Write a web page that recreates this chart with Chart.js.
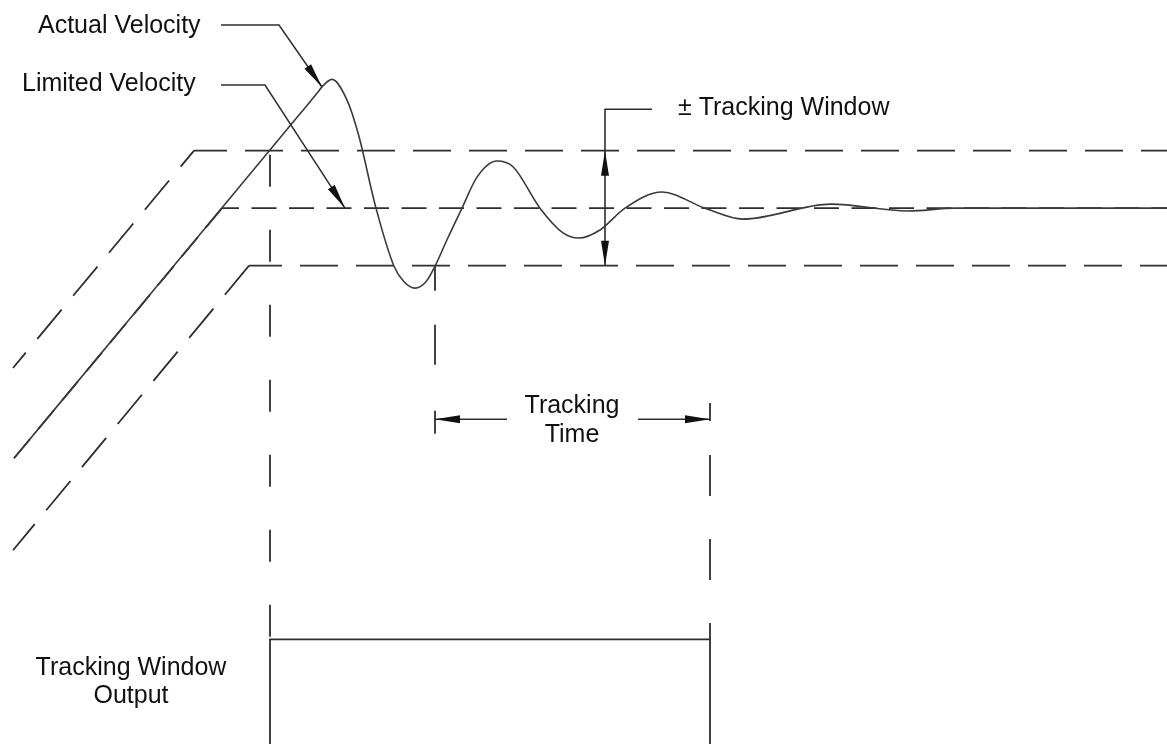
<!DOCTYPE html>
<html>
<head>
<meta charset="utf-8">
<title>Tracking Window</title>
<script src="https://cdn.jsdelivr.net/npm/chart.js@4.4.1/dist/chart.umd.min.js"></script>
<style>
  html, body { margin: 0; padding: 0; background: #fff; overflow: hidden; }
  canvas { display: block; }
</style>
</head>
<body>
<canvas id="chart" width="1167" height="744"></canvas>
<script>
// plot units: x = time, y = velocity (setpoint 100, tracking window +/-10)
// the window output is drawn on the same axis: on = 25, off = 0

// -------- velocity curves ----------
const actualTime = [1.4, 15, 30, 31.8, 32.2, 33.2, 34.7, 35.8, 37.6, 39.4, 40.4, 41.5, 42.6, 43.5, 44.7, 46.2, 47.7, 49.7, 51.3, 54.0, 56.3, 57.9, 60.0, 62.5, 66.2, 70.5, 74.3, 83.1, 90.8, 95.5, 116.7];
const actualVel  = [56.5, 85.0, 116.4, 120.2, 121.1, 122.4, 118.8, 113.1, 100.0, 89.9, 87.2, 86.1, 87.2, 89.9, 94.5, 100.0, 105.4, 108.2, 107.2, 100.0, 95.7, 94.8, 96.2, 100.0, 102.8, 100.0, 98.1, 100.7, 99.5, 100.0, 100.0];

const limitedTime = [1.4, 22.2, 116.7];
const limitedVel  = [56.5, 100, 100];

const upperTime = [1.3, 19.4, 116.7];
const upperVel  = [72.2, 110, 110];
const lowerTime = [1.3, 24.9, 116.7];
const lowerVel  = [40.5, 90, 90];

// -------- tracking window output ----------
const outputTime  = [27, 27, 71, 71];
const outputLevel = [0, 25, 25, 0];

// -------- projection lines & dimension arrows ----------
const enterTime = [27, 27];       const enterVel = [110, 25];
const inWinTime = [43.5, 43.5];   const inWinVel = [90, 60.7];
const doneTime  = [71, 71];       const doneVel  = [66.1, 25];

const ttLeftTime  = [50.7, 43.5]; const ttLeftVel  = [63.3, 63.3];
const ttRightTime = [63.8, 71.0]; const ttRightVel = [63.3, 63.3];

const winLeaderTime = [65.2, 60.5, 60.5]; const winLeaderVel = [117.2, 117.2, 110];
const winUpTime   = [60.5, 60.5];  const winUpVel   = [100, 110];
const winDownTime = [60.5, 60.5];  const winDownVel = [100, 90];

const actLeaderTime = [22.1, 27.9, 32.2]; const actLeaderVel = [131.85, 131.85, 121.07];
const limLeaderTime = [22.1, 26.5, 34.5]; const limLeaderVel = [121.4, 121.4, 100];

// -------- labels ----------
const noteText  = ["Actual Velocity", "Limited Velocity", "\u00B1 Tracking Window", "Tracking", "Time", "Tracking Window", "Output"];
const noteTime  = [3.8, 2.2, 67.8, 57.2, 57.2, 13.1, 13.1];
const noteVel   = [130.46, 120.37, 116.2, 64.37, 59.33, 18.8, 13.94];
const noteAlign = ["left", "left", "left", "center", "center", "center", "center"];

const pts = (ts, vs) => ts.map((t, i) => ({ x: t, y: vs[i] }));

const INK = "#2e2e2e";

function line(ts, vs, extra) {
  return Object.assign({
    data: pts(ts, vs),
    borderColor: INK,
    borderWidth: 1.8,
    pointRadius: 0,
    fill: false,
    tension: 0,
  }, extra || {});
}

const datasets = [
  line(actualTime, actualVel, { borderColor: "#3a3a3a", borderWidth: 1.6, cubicInterpolationMode: "monotone" }),
  line(limitedTime, limitedVel, {
    borderDash: [25, 12.5],
    segment: { borderDashOffset: (c) => (c.p0DataIndex === 0 ? 0 : 8) },
  }),
  line(upperTime, upperVel, {
    borderDash: [38, 18],
    segment: { borderDashOffset: (c) => (c.p0DataIndex === 0 ? 18 : 5) },
  }),
  line(lowerTime, lowerVel, {
    borderDash: [38, 18],
    segment: { borderDashOffset: (c) => (c.p0DataIndex === 0 ? 4 : 5) },
  }),
  line(outputTime, outputLevel, { borderWidth: 1.8 }),
  line(enterTime, enterVel, { borderDash: [32, 43], borderDashOffset: 71 }),
  line(inWinTime, inWinVel, { borderDash: [25, 34, 40, 46, 23, 200] }),
  line(doneTime, doneVel, { borderDash: [18, 34, 41, 43, 41, 43, 41, 43] }),
  line(ttLeftTime, ttLeftVel, { arrowEnd: true, borderWidth: 1.6 }),
  line(ttRightTime, ttRightVel, { arrowEnd: true, borderWidth: 1.6 }),
  line(winLeaderTime, winLeaderVel, { borderWidth: 1.6 }),
  line(winUpTime, winUpVel, { arrowEnd: true, borderWidth: 1.6 }),
  line(winDownTime, winDownVel, { arrowEnd: true, borderWidth: 1.6 }),
  line(actLeaderTime, actLeaderVel, { arrowEnd: true, borderWidth: 1.5 }),
  line(limLeaderTime, limLeaderVel, { arrowEnd: true, borderWidth: 1.5 }),
];

// filled arrowheads at the last point of flagged datasets
const arrowHeads = {
  id: "arrowHeads",
  afterDatasetsDraw(chart) {
    const ctx = chart.ctx;
    chart.data.datasets.forEach((ds, i) => {
      if (!ds.arrowEnd) return;
      const p = chart.getDatasetMeta(i).data;
      const a = p[p.length - 2], b = p[p.length - 1];
      const ang = Math.atan2(b.y - a.y, b.x - a.x);
      ctx.save();
      ctx.translate(b.x, b.y);
      ctx.rotate(ang);
      ctx.beginPath();
      ctx.moveTo(0, 0);
      ctx.lineTo(-25, -4);
      ctx.lineTo(-25, 4);
      ctx.closePath();
      ctx.fillStyle = "#111";
      ctx.fill();
      ctx.restore();
    });
  },
};

const notes = {
  id: "notes",
  afterDraw(chart) {
    const { ctx, scales } = chart;
    ctx.save();
    ctx.font = '25px "Liberation Sans", Arial, sans-serif';
    ctx.fillStyle = "#111";
    ctx.textBaseline = "alphabetic";
    noteText.forEach((txt, i) => {
      ctx.textAlign = noteAlign[i];
      ctx.fillText(txt, scales.x.getPixelForValue(noteTime[i]), scales.y.getPixelForValue(noteVel[i]));
    });
    ctx.restore();
  },
};

new Chart(document.getElementById("chart"), {
  type: "line",
  data: { datasets },
  plugins: [arrowHeads, notes],
  options: {
    responsive: false,
    animation: false,
    devicePixelRatio: 1,
    layout: { padding: 0 },
    scales: {
      x: { type: "linear", min: 0, max: 116.7, display: false },
      y: { type: "linear", min: 6.81, max: 136.2, display: false },
    },
    plugins: { legend: { display: false }, tooltip: { enabled: false } },
    elements: { point: { radius: 0 } },
  },
});
</script>
</body>
</html>
